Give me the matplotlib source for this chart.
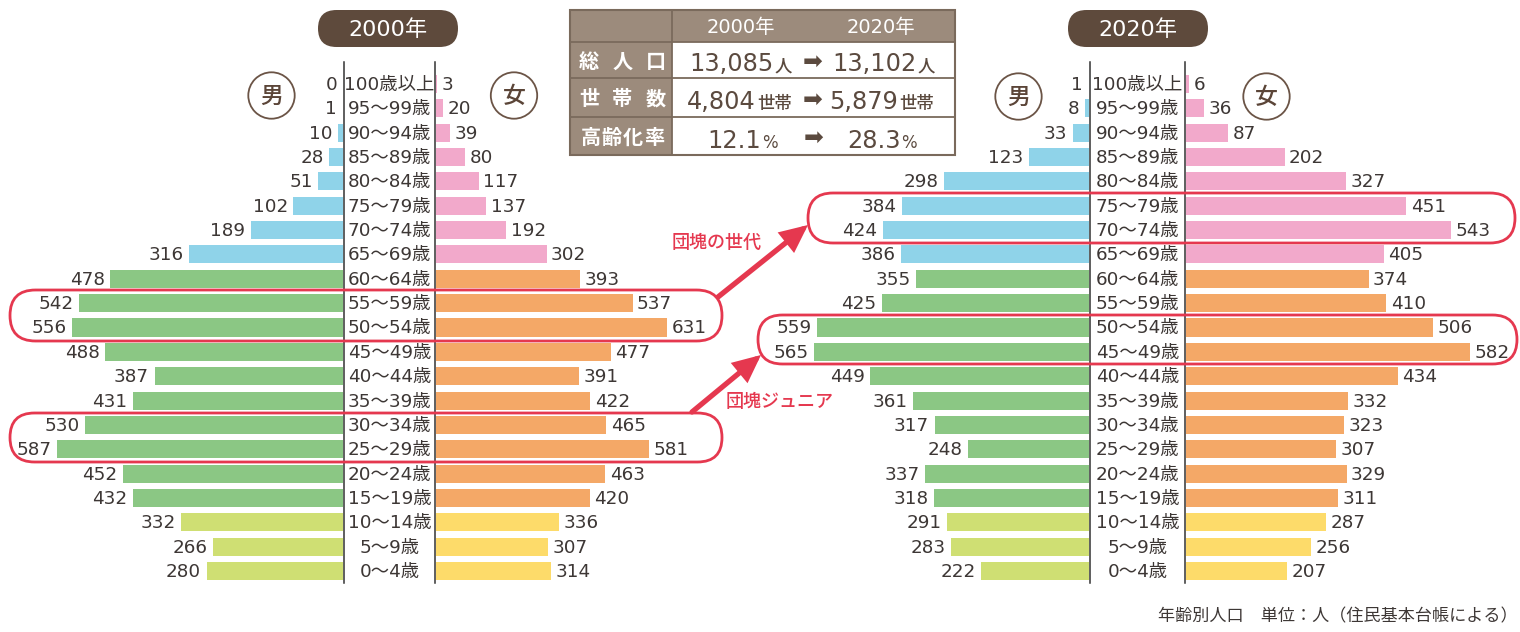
import matplotlib
matplotlib.use("Agg")
import matplotlib.pyplot as plt
from matplotlib.patches import FancyBboxPatch, Circle, FancyArrowPatch, Rectangle

FAM = ['DejaVu Sans', 'Noto Sans CJK JP']
CJK = ['Noto Sans CJK JP', 'DejaVu Sans']
plt.rcParams['font.family'] = FAM

ages = ["100歳以上", "95〜99歳", "90〜94歳", "85〜89歳", "80〜84歳", "75〜79歳",
        "70〜74歳", "65〜69歳", "60〜64歳", "55〜59歳", "50〜54歳", "45〜49歳",
        "40〜44歳", "35〜39歳", "30〜34歳", "25〜29歳", "20〜24歳", "15〜19歳",
        "10〜14歳", "5〜9歳", "0〜4歳"]
male_2000 = [0, 1, 10, 28, 51, 102, 189, 316, 478, 542, 556, 488, 387, 431, 530, 587, 452, 432, 332, 266, 280]
female_2000 = [3, 20, 39, 80, 117, 137, 192, 302, 393, 537, 631, 477, 391, 422, 465, 581, 463, 420, 336, 307, 314]
male_2020 = [1, 8, 33, 123, 298, 384, 424, 386, 355, 425, 559, 565, 449, 361, 317, 248, 337, 318, 291, 283, 222]
female_2020 = [6, 36, 87, 202, 327, 451, 543, 405, 374, 410, 506, 582, 434, 332, 323, 307, 329, 311, 287, 256, 207]

table_cols = ["2000年", "2020年"]
table_rows = ["総人口", "世帯数", "高齢化率"]
table_vals = [("13,085", "人", "13,102", "人"),
              ("4,804", "世帯", "5,879", "世帯"),
              ("12.1", "%", "28.3", "%")]

W, H = 1520, 632
fig = plt.figure(figsize=(W / 100, H / 100), dpi=100)
fig.patch.set_facecolor("white")

C_BLUE = "#8fd3e9"
C_PINK = "#f2a9cb"
C_GREEN = "#8bc784"
C_ORANGE = "#f4a867"
C_LIME = "#cfdf73"
C_YELLOW = "#fddb6a"
C_RED = "#e5384f"
C_BROWN = "#5e4a3c"
C_TXT = "#3d3735"


def fx(x):
    return x / W


def fy(y):
    return 1 - y / H


def make_ax(x0, x1, y0, y1):
    ax = fig.add_axes([fx(x0), fy(y1), (x1 - x0) / W, (y1 - y0) / H])
    ax.set_axis_off()
    ax.patch.set_alpha(0)
    return ax


ROW0, STEP = 84.0, 24.35
N = len(ages)
YTOP = ROW0 - STEP / 2
YBOT = ROW0 + STEP * (N - 0.5)
BAR_H = 0.74
FS = 13.2


def colors_for(side):
    out = []
    for i in range(N):
        if i <= 7:
            out.append(C_BLUE if side == "m" else C_PINK)
        elif i <= 17:
            out.append(C_GREEN if side == "m" else C_ORANGE)
        else:
            out.append(C_LIME if side == "m" else C_YELLOW)
    return out


def pyramid(center_l, center_r, left_edge, right_edge, males, females, scale_m, scale_f):
    axm = make_ax(left_edge, center_l, YTOP, YBOT)
    axm.set_xlim((center_l - left_edge) / scale_m, 0)
    axm.set_ylim(N - 0.5, -0.5)
    axm.barh(range(N), males, height=BAR_H, color=colors_for("m"))
    for i, v in enumerate(males):
        axm.text(v + 5.5 / scale_m, i + 0.04, str(v), ha="right", va="center",
                 fontsize=FS, color=C_TXT)
    axf = make_ax(center_r, right_edge, YTOP, YBOT)
    axf.set_xlim(0, (right_edge - center_r) / scale_f)
    axf.set_ylim(N - 0.5, -0.5)
    axf.barh(range(N), females, height=BAR_H, color=colors_for("f"))
    for i, v in enumerate(females):
        axf.text(v + 4.5 / scale_f, i + 0.04, str(v), ha="left", va="center",
                 fontsize=FS, color=C_TXT)
    axc = make_ax(center_l, center_r, YTOP, YBOT)
    axc.set_xlim(0, 1)
    axc.set_ylim(N - 0.5, -0.5)
    axc.axvline(0.012, color="#333333", lw=1.1, ymin=0, ymax=1.02, clip_on=False)
    axc.axvline(0.988, color="#333333", lw=1.1, ymin=0, ymax=1.02, clip_on=False)
    for i, a in enumerate(ages):
        axc.text(0.5, i + 0.04, a, ha="center", va="center", fontsize=FS, color=C_TXT)


pyramid(343, 436, 0, 740, male_2000, female_2000, 0.487, 0.366)
pyramid(1089, 1186, 700, 1520, male_2020, female_2020, 0.487, 0.488)

ov = fig.add_axes([0, 0, 1, 1])
ov.set_xlim(0, W)
ov.set_ylim(H, 0)
ov.set_axis_off()
ov.patch.set_alpha(0)


def pill(x0, y0, x1, y1, ec=None, fc="none", lw=2.0, z=5):
    h = y1 - y0
    r = h / 2
    p = FancyBboxPatch((x0, y0), x1 - x0, h, boxstyle=f"round,pad=0,rounding_size={r}",
                       fc=fc, ec=ec if ec else "none", lw=lw, zorder=z)
    ov.add_patch(p)


# year titles
pill(318, 10, 458, 47, fc=C_BROWN)
ov.text(388, 29.5, "2000年", ha="center", va="center", fontsize=16, color="white", zorder=6)
pill(1068, 10, 1208, 47, fc=C_BROWN)
ov.text(1138, 29.5, "2020年", ha="center", va="center", fontsize=16, color="white", zorder=6)

# gender circles
for cx, cy, t in [(271.5, 95.5, "男"), (514, 95.5, "女"), (1018.5, 96.5, "男"), (1266.5, 96.5, "女")]:
    ov.add_patch(Circle((cx, cy), 23.2, fc="white", ec="#6b5446", lw=1.3, zorder=5))
    ov.text(cx, cy + 1, t, ha="center", va="center", fontsize=16.5, color="#5b4538",
            family=CJK, fontweight="medium", zorder=6)

# red outlines
pill(10, 290, 722, 341, ec=C_RED, lw=2.0)
pill(10, 413, 722, 462, ec=C_RED, lw=2.0)
pill(808, 193, 1515, 243, ec=C_RED, lw=2.0)
pill(758, 315, 1517, 364, ec=C_RED, lw=2.0)

# arrows
for (x0, y0, x1, y1) in [(718, 297, 808, 225), (692, 412, 761, 355)]:
    ov.add_patch(FancyArrowPatch((x0, y0), (x1, y1),
                                 arrowstyle="-|>,head_length=14,head_width=6.5",
                                 color=C_RED, lw=3.8, mutation_scale=1, zorder=6,
                                 shrinkA=0, shrinkB=0, joinstyle="miter"))
ov.text(717, 243, "団塊の世代", ha="center", va="center", fontsize=13, color=C_RED,
        family=CJK, fontweight="medium", zorder=6)
ov.text(780, 402, "団塊ジュニア", ha="center", va="center", fontsize=13, color=C_RED,
        family=CJK, fontweight="medium", zorder=6)

# table
TB = "#9c8b7c"
LC = "#7a6a5c"
tx0, tx1, tcol = 570, 955, 672
ty = [10, 42, 78, 117, 155]
ov.add_patch(Rectangle((tx0, ty[0]), tx1 - tx0, ty[1] - ty[0], fc=TB, ec="none", zorder=4))
ov.add_patch(Rectangle((tx0, ty[1]), tcol - tx0, ty[4] - ty[1], fc=TB, ec="none", zorder=4))
for yy in ty[1:-1]:
    ov.plot([tx0, tx1], [yy, yy], color=LC, lw=1.3, zorder=5)
ov.plot([tcol, tcol], [ty[0], ty[4]], color=LC, lw=1.3, zorder=5)
ov.add_patch(Rectangle((tx0, ty[0]), tx1 - tx0, ty[4] - ty[0], fc="none", ec=LC, lw=1.5, zorder=5))
ov.text(741, 27.5, table_cols[0], ha="center", va="center", fontsize=14, color="white", zorder=6)
ov.text(881, 27.5, table_cols[1], ha="center", va="center", fontsize=14, color="white", zorder=6)

TT = "#5b4a3f"
fig.canvas.draw()
renderer = fig.canvas.get_renderer()


def right_px(t):
    bb = t.get_window_extent(renderer=renderer)
    return bb.x1


label_centers = {0: [589, 622.5, 655.5], 1: [589, 622.5, 655.5], 2: [580 + 10.6 + 21.2 * k for k in range(4)]}
num_left = [(689, 832), (687, 829), (707, 847)]
arrow_x = [812.5, 812.5, 814]
for r, lab in enumerate(table_rows):
    yc = (ty[r + 1] + ty[r + 2]) / 2
    for k, ch in enumerate(lab):
        ov.text(label_centers[r][k], yc + 1, ch, ha="center", va="center", fontsize=14.5,
                color="white", family=CJK, fontweight="bold", zorder=6)
    a, au, b, bu = table_vals[r]
    base = yc + 11.5
    ufs = 12.5 if r < 2 else 12
    ta = ov.text(num_left[r][0], base, a, ha="left", va="baseline", fontsize=17.3, color=TT, zorder=6)
    tb = ov.text(num_left[r][1], base, b, ha="left", va="baseline", fontsize=17.3, color=TT, zorder=6)
    ufam = CJK if r < 2 else FAM
    ov.text(right_px(ta) + 1, base, au, ha="left", va="baseline", fontsize=ufs, color=TT,
            family=ufam, fontweight="medium" if r < 2 else "normal", zorder=6)
    ov.text(right_px(tb) + 1, base, bu, ha="left", va="baseline", fontsize=ufs, color=TT,
            family=ufam, fontweight="medium" if r < 2 else "normal", zorder=6)
    ov.text(arrow_x[r], yc + 2, "➡", ha="center", va="center", fontsize=17, color=TT,
            family=["DejaVu Sans"], zorder=6)

# footnote
ov.text(1518, 616, "年齢別人口　単位：人（住民基本台帳による）", ha="right", va="center",
        fontsize=12.3, color=C_TXT, family=CJK)

fig.savefig("out.png", dpi=100, facecolor="white")
